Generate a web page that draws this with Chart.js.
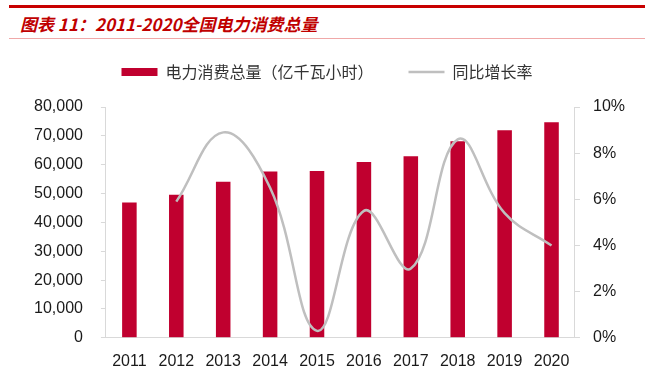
<!DOCTYPE html>
<html>
<head>
<meta charset="utf-8">
<script src="https://cdn.jsdelivr.net/npm/chart.js@4.4.1/dist/chart.umd.min.js"></script>
<style>
    body { margin: 0; background: #fff; }
    #wrap { position: relative; width: 653px; height: 385px; overflow: hidden; }
    #topLine { position: absolute; left: 9px; top: 5px; width: 636px; height: 3px; background: #c80000; }
    #bottomLine { position: absolute; left: 9px; top: 38px; width: 636px; height: 1px; background: #f0a8a8; }
    #title {
        position: absolute; left: 20px; top: 11px;
        font-family: "Noto Sans CJK SC", sans-serif; font-size: 17px;
        font-weight: bold; font-style: italic; color: #c00000;
        white-space: nowrap;
    }
    #chart { position: absolute; left: 0; top: 0; }
</style>
</head>
<body>
<div id="wrap">
    <div id="topLine"></div>
    <div id="title">图表 11：2011-2020全国电力消费总量</div>
    <div id="bottomLine"></div>
    <canvas id="chart" width="653" height="385"></canvas>
</div>
<script>
    const years = ['2011', '2012', '2013', '2014', '2015', '2016', '2017', '2018', '2019', '2020'];
    // 电力消费总量 (亿千瓦小时)
    const consumption = [46900, 49600, 54100, 57600, 57800, 60900, 62900, 68100, 71900, 74700];
    // 同比增长率 (%)
    const growth = [null, 5.9, 8.9, 6.5, 0.3, 5.5, 3.0, 8.6, 5.4, 4.0];
    const leftTicks = [0, 10000, 20000, 30000, 40000, 50000, 60000, 70000, 80000];
    const rightTicks = [0, 2, 4, 6, 8, 10];

    const axisColor = '#d9d9d9';
    const tickFont = { family: '"Liberation Sans", Arial, sans-serif', size: 16 };

    // push the plot area down a bit below the legend
    const legendMargin = {
        id: 'legendMargin',
        beforeInit(chart) {
            const fit = chart.legend.fit;
            chart.legend.fit = function() {
                fit.bind(chart.legend)();
                this.height += 17;
            };
        }
    };

    const ctx = document.getElementById('chart').getContext('2d');
    new Chart(ctx, {
        type: 'bar',
        data: {
            labels: years,
            datasets: [{
                label: '电力消费总量（亿千瓦小时）',
                data: consumption,
                backgroundColor: '#c0002f',
                barPercentage: 0.31,
                categoryPercentage: 1,
                yAxisID: 'y',
                order: 1
            }, {
                type: 'line',
                label: '同比增长率',
                data: growth,
                borderColor: '#bfbfbf',
                backgroundColor: '#bfbfbf',
                borderWidth: 2.5,
                pointRadius: 0,
                tension: 0.4,
                yAxisID: 'y1',
                order: 0
            }]
        },
        plugins: [legendMargin],
        options: {
            responsive: false,
            animation: false,
            layout: {
                padding: { top: 29, left: 16, right: 15, bottom: 8 }
            },
            plugins: {
                tooltip: { enabled: false },
                legend: {
                    position: 'top',
                    labels: {
                        usePointStyle: true,
                        pointStyleWidth: 36,
                        boxHeight: 8,
                        padding: 35,
                        color: '#333',
                        font: { family: '"Noto Sans CJK SC", sans-serif', size: 16 },
                        sort: (a, b) => a.datasetIndex - b.datasetIndex,
                        generateLabels: function(chart) {
                            return chart.data.datasets.map((ds, i) => ({
                                text: ds.label,
                                datasetIndex: i,
                                fillStyle: i === 0 ? ds.backgroundColor : 'transparent',
                                strokeStyle: ds.borderColor || ds.backgroundColor,
                                lineWidth: i === 0 ? 0 : 2.5,
                                pointStyle: i === 0 ? 'rect' : 'line',
                                fontColor: '#333',
                                hidden: false
                            }));
                        }
                    }
                }
            },
            scales: {
                x: {
                    grid: { display: false },
                    border: { display: true, color: axisColor, width: 1 },
                    ticks: { color: '#1a1a1a', font: tickFont, padding: 6, maxRotation: 0 }
                },
                y: {
                    position: 'left',
                    min: 0,
                    max: 80000,
                    afterBuildTicks: axis => { axis.ticks = leftTicks.map(v => ({ value: v })); },
                    grid: { drawOnChartArea: false, color: axisColor, tickLength: 5 },
                    border: { display: true, color: axisColor, width: 1 },
                    ticks: {
                        color: '#1a1a1a', font: tickFont, padding: 18,
                        callback: v => v.toLocaleString('en-US')
                    }
                },
                y1: {
                    position: 'right',
                    min: 0,
                    max: 10,
                    afterBuildTicks: axis => { axis.ticks = rightTicks.map(v => ({ value: v })); },
                    grid: { drawOnChartArea: false, color: axisColor, tickLength: 5 },
                    border: { display: true, color: axisColor, width: 1 },
                    ticks: {
                        color: '#1a1a1a', font: tickFont, padding: 13,
                        callback: v => v + '%'
                    }
                }
            }
        }
    });
</script>
</body>
</html>
